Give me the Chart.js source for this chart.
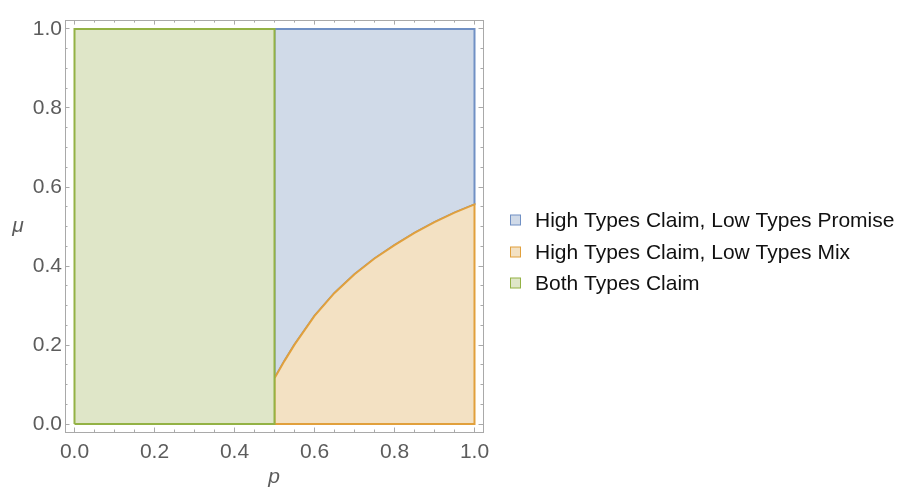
<!DOCTYPE html>
<html>
<head>
<meta charset="utf-8">
<script src="https://cdn.jsdelivr.net/npm/chart.js@4/dist/chart.umd.min.js"></script>
<style>
  html, body { margin: 0; padding: 0; background: #ffffff; }
  canvas { display: block; }
</style>
</head>
<body>
<canvas id="regions" width="902" height="490"></canvas>
<script>
// Parameter space
const pBounds = [0, 1];
const muBounds = [0, 1];
const pThreshold = 0.5;

// Boundary between the "Promise" and "Mix" regions, for p >= 0.5
const curveP  = [0.5, 0.525, 0.55, 0.6, 0.65, 0.7, 0.75, 0.8, 0.85, 0.9, 0.95, 1.0];
const curveMu = [0.116, 0.160, 0.201, 0.274, 0.332, 0.379, 0.419, 0.453, 0.484, 0.511, 0.535, 0.556];

const regionNames = [
  'High Types Claim, Low Types Promise',
  'High Types Claim, Low Types Mix',
  'Both Types Claim'
];

const majorTicks = [0, 0.2, 0.4, 0.6, 0.8, 1.0];
const minorTicks = [0.05, 0.1, 0.15, 0.25, 0.3, 0.35, 0.45, 0.5, 0.55, 0.65, 0.7, 0.75, 0.85, 0.9, 0.95];
const axisTitles = { x: 'p', y: 'μ' };

// Region outlines built from the values above
const curve = curveP.map((p, i) => ({ x: p, y: curveMu[i] }));
const promiseRegion = [
  { x: pThreshold, y: curveMu[0] },
  { x: pThreshold, y: muBounds[1] },
  { x: pBounds[1], y: muBounds[1] },
  ...curve.slice().reverse()
];
const mixRegion = [
  { x: pThreshold, y: muBounds[0] },
  ...curve,
  { x: pBounds[1], y: muBounds[0] },
  { x: pThreshold, y: muBounds[0] }
];
const claimRegion = [
  { x: pBounds[0], y: muBounds[0] },
  { x: pBounds[0], y: muBounds[1] },
  { x: pThreshold, y: muBounds[1] },
  { x: pThreshold, y: muBounds[0] },
  { x: pBounds[0], y: muBounds[0] }
];

const FONT = '"Liberation Sans", Arial, Helvetica, sans-serif';
const FRAME = '#a9a9a9';
const LABEL = '#5c5c5c';

const X_RANGE = { min: -0.02375, max: 1.02125 };
const Y_RANGE = { min: -0.02, max: 1.0224 };

function setTicks(values) {
  return scale => { scale.ticks = values.map(v => ({ value: v })); };
}

function majorAxis(position, range, extra) {
  return Object.assign({
    type: 'linear',
    position,
    min: range.min,
    max: range.max,
    border: { display: true, color: FRAME, width: 1 },
    grid: { drawOnChartArea: false, drawTicks: true, color: FRAME, tickColor: FRAME, tickLength: -4.5, tickWidth: 1 },
    ticks: { display: false, autoSkip: false, maxRotation: 0 },
    afterBuildTicks: setTicks(majorTicks)
  }, extra);
}

function minorAxis(position, range, weight) {
  return {
    type: 'linear',
    position,
    weight,
    min: range.min,
    max: range.max,
    border: { display: false },
    grid: { drawOnChartArea: false, drawTicks: true, color: FRAME, tickColor: FRAME, tickLength: -2.5, tickWidth: 1 },
    ticks: { display: false, autoSkip: false },
    afterBuildTicks: setTicks(minorTicks),
    afterFit: s => { if (s.isHorizontal()) s.height = 0; else s.width = 0; }
  };
}

const tickLabelStyle = {
  display: true,
  autoSkip: false,
  maxRotation: 0,
  color: LABEL,
  font: { family: FONT, size: 21 },
  callback: v => Number(v).toFixed(1)
};

// Legend drawn to the right of the frame
const regionLegend = {
  id: 'regionLegend',
  afterDraw(chart) {
    const ctx = chart.ctx;
    const boxX = 510.5, textX = 535;
    const rowsY = [220, 252, 283];
    ctx.save();
    chart.data.datasets.forEach((ds, i) => {
      const y = rowsY[i];
      ctx.fillStyle = ds.backgroundColor;
      ctx.fillRect(boxX, y - 5, 10, 10);
      ctx.strokeStyle = ds.borderColor;
      ctx.lineWidth = 1;
      ctx.strokeRect(boxX, y - 5, 10, 10);
      ctx.fillStyle = '#111111';
      ctx.font = '21px ' + FONT;
      ctx.textAlign = 'left';
      ctx.textBaseline = 'middle';
      ctx.fillText(ds.label, textX, y + 1);
    });
    ctx.restore();
  }
};

// Upright vertical-axis title
const muTitle = {
  id: 'muTitle',
  afterDraw(chart) {
    const ctx = chart.ctx;
    const area = chart.chartArea;
    ctx.save();
    ctx.fillStyle = LABEL;
    ctx.font = 'italic 21px ' + FONT;
    ctx.textAlign = 'center';
    ctx.textBaseline = 'middle';
    ctx.fillText(axisTitles.y, 18, (area.top + area.bottom) / 2);
    ctx.restore();
  }
};

new Chart(document.getElementById('regions'), {
  type: 'scatter',
  data: {
    datasets: [
      {
        label: regionNames[0],
        data: promiseRegion,
        showLine: true,
        fill: 'shape',
        backgroundColor: '#d0dae8',
        borderColor: '#7090c4',
        borderWidth: 2,
        pointRadius: 0,
        tension: 0,
        order: 2
      },
      {
        label: regionNames[1],
        data: mixRegion,
        showLine: true,
        fill: 'shape',
        backgroundColor: '#f3e1c3',
        borderColor: '#e1a03c',
        borderWidth: 2,
        pointRadius: 0,
        tension: 0,
        order: 1
      },
      {
        label: regionNames[2],
        data: claimRegion,
        showLine: true,
        fill: 'shape',
        backgroundColor: '#dfe6c8',
        borderColor: '#93b245',
        borderWidth: 2,
        pointRadius: 0,
        tension: 0,
        order: 0
      }
    ]
  },
  options: {
    responsive: false,
    devicePixelRatio: 1,
    animation: false,
    layout: { padding: 0 },
    plugins: {
      legend: { display: false },
      tooltip: { enabled: false }
    },
    scales: {
      x: majorAxis('bottom', X_RANGE, {
        weight: 1,
        ticks: Object.assign({}, tickLabelStyle, { padding: 12 }),
        title: {
          display: true,
          text: axisTitles.x,
          color: LABEL,
          font: { family: FONT, size: 21, style: 'italic' },
          padding: { top: 0, bottom: 0 }
        },
        afterFit: s => { s.height = 58; }
      }),
      xMinor: minorAxis('bottom', X_RANGE, 0),
      xTop: majorAxis('top', X_RANGE, { weight: 1, afterFit: s => { s.height = 14; } }),
      xTopMinor: minorAxis('top', X_RANGE, 0),
      y: majorAxis('left', Y_RANGE, {
        weight: 1,
        ticks: Object.assign({}, tickLabelStyle, { padding: 7.5 }),
        afterFit: s => { s.width = 65; }
      }),
      yMinor: minorAxis('left', Y_RANGE, 0),
      yRight: majorAxis('right', Y_RANGE, { weight: 1, afterFit: s => { s.width = 419; } }),
      yRightMinor: minorAxis('right', Y_RANGE, 0)
    }
  },
  plugins: [regionLegend, muTitle]
});
</script>
</body>
</html>
